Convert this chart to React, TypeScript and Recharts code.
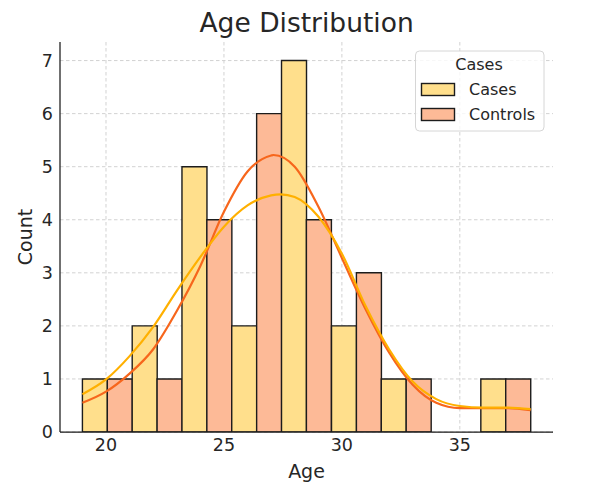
import { ComposedChart, Bar, Cell, Line, XAxis, YAxis, CartesianGrid } from 'recharts'

// histogram bins (seaborn-style dodge: Cases left half, Controls right half)
const binStarts = [19, 21.11, 23.22, 25.33, 27.44, 29.56, 31.67, 33.78, 35.89]
const binWidth = 2.111
const casesCounts = [1, 2, 5, 2, 7, 2, 1, 0, 1]
const controlsCounts = [1, 1, 4, 6, 4, 3, 1, 0, 1]

// KDE curves, in count units
const casesKdeAges = [19, 20, 21, 22, 23, 24, 25, 26, 27, 27.4, 28, 29, 30, 31, 32, 33, 34, 35, 36, 37, 38]
const casesKde = [0.71, 0.99, 1.43, 1.98, 2.66, 3.3, 3.87, 4.27, 4.46, 4.48, 4.43, 4.06, 3.36, 2.38, 1.56, 0.95, 0.62, 0.49, 0.46, 0.46, 0.43]
const controlsKdeAges = [19, 20, 21, 22, 23, 24, 25, 26, 27, 27.1, 28, 29, 30, 31, 32, 33, 34, 35, 36, 37, 38]
const controlsKde = [0.55, 0.76, 1.1, 1.56, 2.28, 3.13, 4.15, 4.91, 5.21, 5.22, 5.0, 4.25, 3.28, 2.32, 1.5, 0.89, 0.55, 0.45, 0.45, 0.45, 0.41]

const xTicks = [20, 25, 30, 35]
const yTicks = [0, 1, 2, 3, 4, 5, 6, 7]
const groups = ['Cases', 'Controls']

const FILLS: Record<string, string> = { Cases: '#FFDF8C', Controls: '#FDBA97' }
const LINES: Record<string, string> = { Cases: '#FFB000', Controls: '#F7661C' }
const TEXT = '#262626'
const FONT = '"DejaVu Sans", sans-serif'

const W = 589
const H = 500

const barRows = binStarts.flatMap((start, i) => [
  { age: start + binWidth / 4, count: casesCounts[i], group: 'Cases' },
  { age: start + (3 * binWidth) / 4, count: controlsCounts[i], group: 'Controls' },
])
const casesLine = casesKdeAges.map((age, i) => ({ age, density: casesKde[i] }))
const controlsLine = controlsKdeAges.map((age, i) => ({ age, density: controlsKde[i] }))

function CountLabel(props: any) {
  const vb = props.viewBox ?? { x: 0, y: 42, width: 60, height: 390 }
  const x = vb.x + 31.5
  const y = vb.y + vb.height / 2
  return (
    <text x={x} y={y} transform={`rotate(-90 ${x} ${y})`} textAnchor="middle" fill={TEXT} fontSize={19} fontFamily={FONT}>
      Count
    </text>
  )
}

export default function App() {
  return (
    <div style={{ position: 'absolute', left: 0, top: 0, width: W, height: H, background: '#fff', fontFamily: FONT }}>
      <ComposedChart
        width={W}
        height={H}
        data={barRows}
        margin={{ top: 42, right: 36, bottom: 0, left: 0 }}
        barCategoryGap={0}
        barGap={0}
      >
        <XAxis xAxisId="bins" dataKey="age" type="number" domain={[18.05, 38.95]} allowDataOverflow hide height={0} />
        <XAxis
          xAxisId="kde"
          dataKey="age"
          type="number"
          domain={[18.05, 38.95]}
          allowDataOverflow
          ticks={xTicks}
          height={68}
          tickLine={false}
          tickMargin={1}
          axisLine={{ stroke: '#1a1a1a', strokeWidth: 1.25 }}
          tick={{ fill: TEXT, fontSize: 17.5, fontFamily: FONT }}
          label={{ value: 'Age', position: 'insideBottom', offset: 22, fill: TEXT, fontSize: 19, fontFamily: FONT }}
        />
        <YAxis
          type="number"
          domain={[0, 7.35]}
          allowDataOverflow
          ticks={yTicks}
          width={60}
          tickLine={false}
          tickMargin={1}
          axisLine={{ stroke: '#1a1a1a', strokeWidth: 1.25 }}
          tick={{ fill: TEXT, fontSize: 17.5, fontFamily: FONT }}
          label={<CountLabel />}
        />
        <CartesianGrid xAxisId="kde" stroke="#d2d2d2" strokeDasharray="3.5 2.5" syncWithTicks />
        <Bar xAxisId="bins" dataKey="count" stroke="#1c1c1c" strokeWidth={1.4} isAnimationActive={false}>
          {barRows.map((row, i) => (
            <Cell key={i} fill={FILLS[row.group]} />
          ))}
        </Bar>
        <Line
          xAxisId="kde"
          data={controlsLine}
          dataKey="density"
          type="monotone"
          stroke={LINES.Controls}
          strokeWidth={2.2}
          dot={false}
          activeDot={false}
          isAnimationActive={false}
        />
        <Line
          xAxisId="kde"
          data={casesLine}
          dataKey="density"
          type="monotone"
          stroke={LINES.Cases}
          strokeWidth={2.2}
          dot={false}
          activeDot={false}
          isAnimationActive={false}
        />
      </ComposedChart>

      {/* title + legend overlay */}
      <svg width={W} height={H} style={{ position: 'absolute', left: 0, top: 0, pointerEvents: 'none' }}>
        <text x={306.6} y={31.7} textAnchor="middle" fill={TEXT} fontSize={26.5} fontFamily={FONT}>
          Age Distribution
        </text>
        <rect x={415.5} y={51} width={128.5} height={80} rx={4} fill="#fff" fillOpacity={0.8} stroke="#d6d6d6" />
        <text x={479} y={70} textAnchor="middle" fill={TEXT} fontSize={16} fontFamily={FONT}>
          Cases
        </text>
        {groups.map((g, i) => (
          <g key={g}>
            <rect x={421.5} y={83.5 + i * 25} width={33} height={12} fill={FILLS[g]} stroke="#1c1c1c" strokeWidth={1.4} />
            <text x={469} y={95.3 + i * 25} fill={TEXT} fontSize={16} fontFamily={FONT}>
              {g}
            </text>
          </g>
        ))}
      </svg>
    </div>
  )
}
